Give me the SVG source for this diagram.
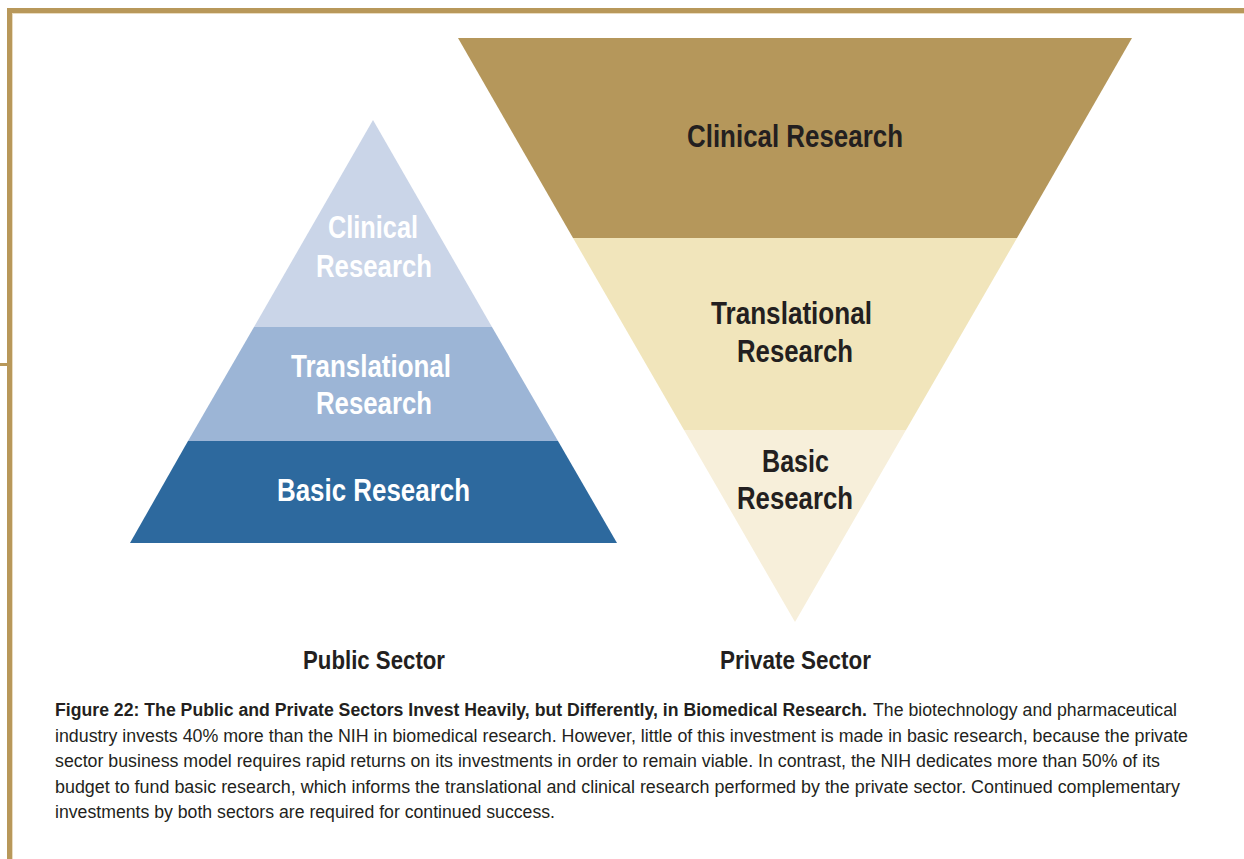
<svg xmlns="http://www.w3.org/2000/svg" width="1244" height="859" viewBox="0 0 1244 859">
<style>
.lbl{font-family:"Liberation Sans",Arial,sans-serif;font-weight:bold;font-size:32px;}
.w{fill:#ffffff;}
.d{fill:#231f20;}
.sec{font-family:"Liberation Sans",Arial,sans-serif;font-weight:bold;font-size:26px;fill:#231f20;}
.cap{font-family:"Liberation Sans",Arial,sans-serif;font-size:17.5px;fill:#231f20;}
.capb{font-family:"Liberation Sans",Arial,sans-serif;font-size:17.5px;font-weight:bold;fill:#231f20;}
</style>
<rect x="0" y="0" width="1244" height="859" fill="#ffffff"/>
<g id="frame">
<rect x="7" y="8" width="1237" height="5" fill="#b8985a"/>
<rect x="7" y="8" width="5" height="851" fill="#b8985a"/>
<rect x="12" y="13" width="1232" height="1" fill="#eadcc0"/>
<rect x="12" y="13" width="1" height="846" fill="#eadcc0"/>
<rect x="0" y="363" width="7" height="3" fill="#b8985a"/>
</g>
<g id="public-pyramid">
<g id="public-clinical">
<polygon points="373,120 254,327 492,327" fill="#cad5e8"/>
<text class="lbl w" x="328" y="238" textLength="90" lengthAdjust="spacingAndGlyphs">Clinical</text>
<text class="lbl w" x="316" y="277" textLength="116" lengthAdjust="spacingAndGlyphs">Research</text>
</g>
<g id="public-translational">
<polygon points="254,327 492,327 558,441 188,441" fill="#9cb5d6"/>
<text class="lbl w" x="291" y="377" textLength="160" lengthAdjust="spacingAndGlyphs">Translational</text>
<text class="lbl w" x="316" y="414" textLength="116" lengthAdjust="spacingAndGlyphs">Research</text>
</g>
<g id="public-basic">
<polygon points="188,441 558,441 617,543 130,543" fill="#2d699e"/>
<text class="lbl w" x="277" y="501" textLength="193" lengthAdjust="spacingAndGlyphs">Basic Research</text>
</g>
</g>
<g id="private-pyramid">
<g id="private-clinical">
<polygon points="458,38 1132,38 1017,238 573,238" fill="#b5975b"/>
<text class="lbl d" x="687" y="147" textLength="216" lengthAdjust="spacingAndGlyphs">Clinical Research</text>
</g>
<g id="private-translational">
<polygon points="573,238 1017,238 906,430 684,430" fill="#f1e5bb"/>
<text class="lbl d" x="711" y="324" textLength="161" lengthAdjust="spacingAndGlyphs">Translational</text>
<text class="lbl d" x="737" y="362" textLength="116" lengthAdjust="spacingAndGlyphs">Research</text>
</g>
<g id="private-basic">
<polygon points="684,430 906,430 795,622" fill="#f7efda"/>
<text class="lbl d" x="762" y="472" textLength="67" lengthAdjust="spacingAndGlyphs">Basic</text>
<text class="lbl d" x="737" y="509" textLength="116" lengthAdjust="spacingAndGlyphs">Research</text>
</g>
</g>
<g id="sector-labels">
<text class="sec" x="303" y="669" textLength="142" lengthAdjust="spacingAndGlyphs">Public Sector</text>
<text class="sec" x="720" y="669" textLength="151" lengthAdjust="spacingAndGlyphs">Private Sector</text>
</g>
<g id="caption">
<text class="capb" x="55" y="716" textLength="812" lengthAdjust="spacingAndGlyphs">Figure 22: The Public and Private Sectors Invest Heavily, but Differently, in Biomedical Research.</text>
<text class="cap" x="873" y="716" textLength="304" lengthAdjust="spacingAndGlyphs">The biotechnology and pharmaceutical</text>
<text class="cap" x="55" y="741.5" textLength="1133" lengthAdjust="spacingAndGlyphs">industry invests 40% more than the NIH in biomedical research. However, little of this investment is made in basic research, because the private</text>
<text class="cap" x="55" y="767" textLength="1105" lengthAdjust="spacingAndGlyphs">sector business model requires rapid returns on its investments in order to remain viable. In contrast, the NIH dedicates more than 50% of its</text>
<text class="cap" x="55" y="792.5" textLength="1125" lengthAdjust="spacingAndGlyphs">budget to fund basic research, which informs the translational and clinical research performed by the private sector. Continued complementary</text>
<text class="cap" x="55" y="818" textLength="500" lengthAdjust="spacingAndGlyphs">investments by both sectors are required for continued success.</text>
</g>
</svg>
